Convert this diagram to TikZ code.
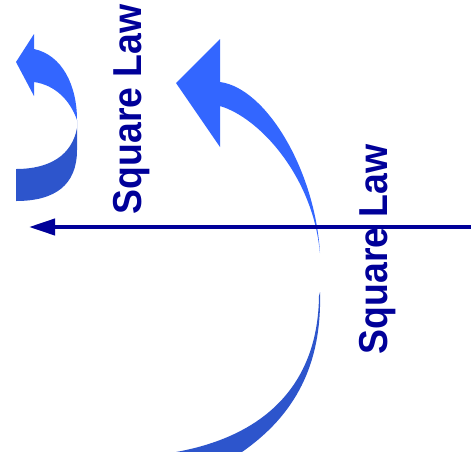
\documentclass[tikz,border=0pt]{standalone}
\usepackage{fontspec}
\setmainfont{Liberation Sans}
\usetikzlibrary{arrows.meta}
\definecolor{navy}{HTML}{000099}
\definecolor{lightarrow}{HTML}{3366FF}
\definecolor{darkarrow}{HTML}{2D55CC}
\tikzset{
  front/.style={fill=lightarrow, draw=none},
  back/.style={fill=darkarrow, draw=none},
  axisline/.style={draw=navy, line width=4pt, -{Triangle[length=26pt,width=16pt]}},
  lawlabel/.style={rotate=90, anchor=base west, inner sep=0pt, text=navy,
    font=\bfseries\fontsize{37.4}{40}\selectfont}
}
\begin{document}
\begin{tikzpicture}[x=1pt,y=-1pt]
\useasboundingbox (0,0) rectangle (471,451);
\clip (0,0) rectangle (471,451);
% small curved arrow (left)
\fill[front] (16,62) -- (34,34) -- (34,49)
  .. controls (62,55) and (77,85) .. (77,120)
  .. controls (70,100) and (55,85) .. (34,82)
  -- (34,96) -- cycle;
\fill[back] (77,120) -- (77,150)
  .. controls (77,185) and (55,201) .. (16,201)
  -- (16,169)
  .. controls (50,169) and (72,155) .. (77,128) -- cycle;
% big curved arrow
\fill[front] (176,83) -- (220,39) -- (220,82)
  .. controls (266,88) and (315,170) .. (320,253)
  -- (319,245)
  .. controls (310,175) and (260,118) .. (220,106)
  -- (220,147) -- cycle;
\fill[back] (320,292)
  .. controls (322,365) and (295,415) .. (242,452)
  -- (242,460) -- (176,460) -- (176,452)
  .. controls (270,435) and (318,380) .. (319,296) -- cycle;
% horizontal axis arrow
\coordinate (hr) at (472,227);
\coordinate (hl) at (29,227);
\draw[axisline] (hr) -- (hl);
% labels
\node[lawlabel] (law1) at (141,214.5) {\scalebox{1}[1.08]{Square Law}};
\node[lawlabel] (law2) at (387.5,354.5) {\scalebox{1}[1.08]{Square Law}};
\end{tikzpicture}
\end{document}
